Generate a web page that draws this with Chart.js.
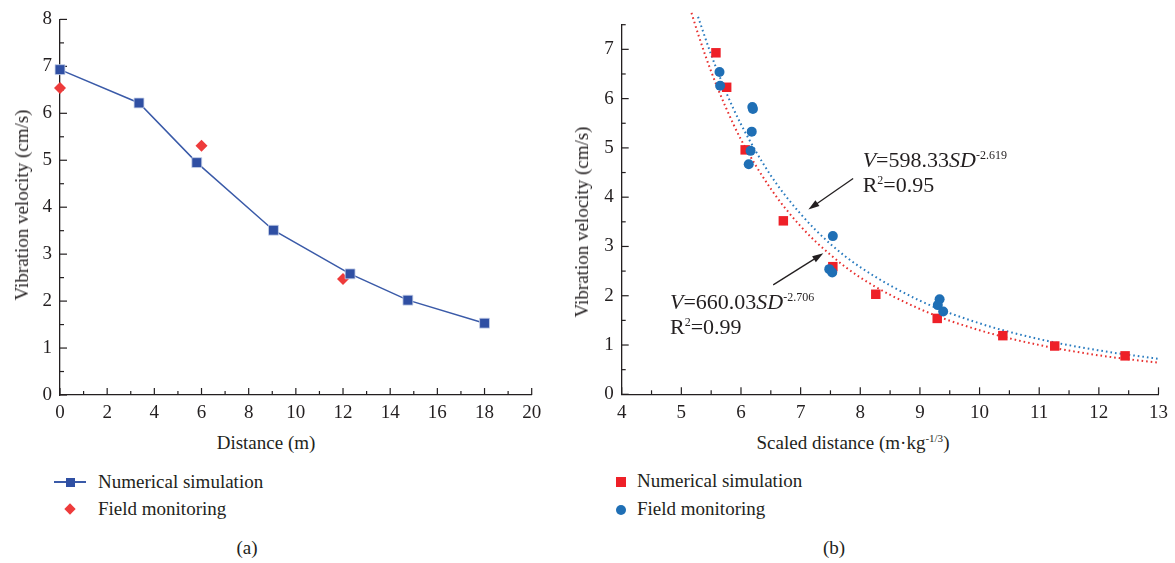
<!DOCTYPE html>
<html>
<head>
<meta charset="utf-8">
<script src="https://cdn.jsdelivr.net/npm/chart.js@4.4.0/dist/chart.umd.min.js"></script>
<style>
  body { margin: 0; background: #fff; width: 1175px; height: 563px; position: relative; overflow: hidden;
         font-family: "Liberation Serif", "DejaVu Serif", serif; color: #231f20; }
  canvas { position: absolute; top: 0; }
  #grafico-a { left: 0; }
  #grafico-b { left: 560px; }
  .rotulo { position: absolute; white-space: nowrap; font-size: 19px; transform: translate(-50%, -50%); }
  .vertical { transform: translate(-50%, -50%) rotate(-90deg); }
  .legenda { position: absolute; white-space: nowrap; font-size: 19px; line-height: 20px; }
  sup { font-size: 11px; vertical-align: 0; position: relative; top: -7px; }
</style>
</head>
<body>
<canvas id="grafico-a" width="560" height="420"></canvas>
<canvas id="grafico-b" width="615" height="420"></canvas>

<div class="rotulo vertical" style="left:22px; top:205px;">Vibration velocity (cm/s)</div>
<div class="rotulo" style="left:266px; top:443px;">Distance (m)</div>
<div class="rotulo vertical" style="left:582px; top:222px;">Vibration velocity (cm/s)</div>
<div class="rotulo" style="left:853px; top:443px;">Scaled distance (m·kg<sup>-1/3</sup>)</div>

<div class="legenda" style="left:98px; top:472px;">Numerical simulation</div>
<span style="position:absolute; left:54px; top:481px; width:32px; height:1.5px; background:#3a5aa8;"></span>
<span style="position:absolute; left:66px; top:478px; width:9px; height:9px; background:#2f4fa3;"></span>
<div class="legenda" style="left:98px; top:499px;">Field monitoring</div>
<span style="position:absolute; left:66px; top:505px; width:8px; height:8px; background:#ee3b3b; transform:rotate(45deg);"></span>

<div class="legenda" style="left:637px; top:471px;">Numerical simulation</div>
<span style="position:absolute; left:616px; top:477px; width:10px; height:10px; background:#ee2028;"></span>
<div class="legenda" style="left:637px; top:499px;">Field monitoring</div>
<span style="position:absolute; left:616px; top:505px; width:10px; height:10px; border-radius:50%; background:#1f6fb5;"></span>

<div class="rotulo" style="left:247px; top:548px;">(a)</div>
<div class="rotulo" style="left:834px; top:548px;">(b)</div>

<script>
// (a) distancia ao ponto de detonacao
const distSimulacao = [0, 3.35, 5.8, 9.05, 12.3, 14.75, 18.0];
const velSimulacao = [6.93, 6.22, 4.95, 3.51, 2.58, 2.02, 1.53];
const distCampo = [0, 6, 12];
const velCampo = [6.54, 5.31, 2.47];

// (b) distancia escalada
const sdSimulacao = [5.58, 5.76, 6.07, 6.71, 7.54, 8.26, 9.29, 10.39, 11.26, 12.44];
const vSimulacao = [6.93, 6.23, 4.96, 3.52, 2.59, 2.03, 1.54, 1.19, 0.98, 0.78];
const sdCampo = [5.64, 5.65, 6.19, 6.2, 6.18, 6.16, 6.13, 7.54, 7.48, 7.53, 9.33, 9.3, 9.39];
const vCampo = [6.54, 6.26, 5.83, 5.79, 5.33, 4.94, 4.67, 3.21, 2.54, 2.47, 1.93, 1.81, 1.68];

// curvas de ajuste
const sdAjusteSim = [5.17, 5.3, 5.5, 5.75, 6, 6.5, 7, 7.5, 8, 9, 10, 11, 12, 13];
const vAjusteSim = [7.74, 7.24, 6.55, 5.81, 5.17, 4.17, 3.41, 2.83, 2.37, 1.73, 1.30, 1.00, 0.79, 0.64];
const sdAjusteCampo = [5.28, 5.5, 5.75, 6, 6.5, 7, 7.5, 8, 9, 10, 11, 12, 13];
const vAjusteCampo = [7.66, 6.89, 6.13, 5.48, 4.44, 3.66, 3.05, 2.58, 1.90, 1.44, 1.12, 0.89, 0.72];

// texto das equacoes: [texto, estilo] (i = italico, s = expoente)
const equacaoCampo = [["V", "i"], ["=598.33", ""], ["SD", "i"], ["-2.619", "s"]];
const r2Campo = [["R", ""], ["2", "s"], ["=0.95", ""]];
const equacaoSim = [["V", "i"], ["=660.03", ""], ["SD", "i"], ["-2.706", "s"]];
const r2Sim = [["R", ""], ["2", "s"], ["=0.99", ""]];

const FONTE = "'Liberation Serif', 'DejaVu Serif', serif";
const COR_EIXO = "#231f20";

function pares(xs, ys) {
  return xs.map((x, i) => ({ x: x, y: ys[i] }));
}

const marcasInternas = {
  id: "marcasInternas",
  beforeDatasetsDraw(chart) {
    const ctx = chart.ctx;
    const area = chart.chartArea;
    ctx.save();
    ctx.strokeStyle = COR_EIXO;
    ctx.lineWidth = 1.2;
    ["x", "y"].forEach((id) => {
      const escala = chart.scales[id];
      const valores = escala.ticks.map((t) => t.value);
      const passo = valores[1] - valores[0];
      const lista = valores.map((v) => [v, 7]);
      for (let m = valores[0] + passo / 2; m <= escala.max + 1e-6; m += passo) lista.push([m, 4]);
      lista.forEach(([v, tam]) => {
        const p = escala.getPixelForValue(v);
        ctx.beginPath();
        if (id === "x") {
          ctx.moveTo(p, area.bottom);
          ctx.lineTo(p, area.bottom - tam);
        } else {
          ctx.moveTo(area.left, p);
          ctx.lineTo(area.left + tam, p);
        }
        ctx.stroke();
      });
    });
    ctx.restore();
  },
};

function escreverRico(ctx, partes, x, y) {
  let cx = x;
  partes.forEach(([texto, estilo]) => {
    const sup = estilo === "s";
    ctx.font = (estilo === "i" ? "italic " : "") + (sup ? "12px " : "22px ") + FONTE;
    ctx.fillText(texto, cx, sup ? y - 8 : y);
    cx += ctx.measureText(texto).width;
  });
}

function seta(ctx, x1, y1, x2, y2) {
  const ang = Math.atan2(y2 - y1, x2 - x1);
  ctx.beginPath();
  ctx.moveTo(x1, y1);
  ctx.lineTo(x2 - 8 * Math.cos(ang), y2 - 8 * Math.sin(ang));
  ctx.stroke();
  ctx.beginPath();
  ctx.moveTo(x2, y2);
  ctx.lineTo(x2 - 11 * Math.cos(ang) + 3.5 * Math.sin(ang), y2 - 11 * Math.sin(ang) - 3.5 * Math.cos(ang));
  ctx.lineTo(x2 - 11 * Math.cos(ang) - 3.5 * Math.sin(ang), y2 - 11 * Math.sin(ang) + 3.5 * Math.cos(ang));
  ctx.closePath();
  ctx.fill();
}

const anotacoes = {
  id: "anotacoes",
  afterDatasetsDraw(chart) {
    const ctx = chart.ctx;
    const sx = chart.scales.x, sy = chart.scales.y;
    const px = (v) => sx.getPixelForValue(v);
    const py = (v) => sy.getPixelForValue(v);
    ctx.save();
    ctx.fillStyle = COR_EIXO;
    ctx.strokeStyle = COR_EIXO;
    ctx.lineWidth = 1.3;
    ctx.textBaseline = "alphabetic";
    ctx.textAlign = "left";
    escreverRico(ctx, equacaoCampo, px(8.04), py(4.61));
    escreverRico(ctx, r2Campo, px(8.04), py(4.11));
    escreverRico(ctx, equacaoSim, px(4.81), py(1.73));
    escreverRico(ctx, r2Sim, px(4.81), py(1.22));
    seta(ctx, px(7.88), py(4.38), px(7.13), py(3.75));
    seta(ctx, px(6.54), py(2.22), px(7.38), py(2.86));
    ctx.restore();
  },
};

function eixos(minX, maxX, passoX, maxY, larguraY, alturaX) {
  const fonteTicks = { family: FONTE, size: 19 };
  return {
    x: {
      type: "linear", min: minX, max: maxX,
      grid: { display: false, drawTicks: false },
      border: { display: true, color: COR_EIXO, width: 1.3 },
      ticks: { stepSize: passoX, color: COR_EIXO, font: fonteTicks, padding: 7, maxRotation: 0 },
      afterFit: (s) => { s.height = alturaX; },
    },
    y: {
      type: "linear", min: 0, max: maxY,
      grid: { display: false, drawTicks: false },
      border: { display: true, color: COR_EIXO, width: 1.3 },
      ticks: { stepSize: 1, color: COR_EIXO, font: fonteTicks, padding: 8 },
      afterBuildTicks: (s) => { s.ticks = s.ticks.filter((t) => Number.isInteger(t.value)); },
      afterFit: (s) => { s.width = larguraY; },
    },
  };
}

const opcoesBase = {
  responsive: false,
  animation: false,
  events: [],
  plugins: { legend: { display: false }, tooltip: { enabled: false } },
};

new Chart(document.getElementById("grafico-a"), {
  type: "scatter",
  data: {
    datasets: [
      {
        data: pares(distSimulacao, velSimulacao),
        showLine: true,
        borderColor: "#3a5aa8",
        borderWidth: 1.5,
        pointStyle: "rect",
        pointRadius: 7,
        pointBackgroundColor: "#2f4fa3",
        pointBorderColor: "#c9d3ea",
        pointBorderWidth: 0.8,
        clip: false,
        order: 0,
      },
      {
        data: pares(distCampo, velCampo),
        pointStyle: "rectRot",
        pointRadius: 6,
        pointBackgroundColor: "#ee3b3b",
        pointBorderColor: "#ee3b3b",
        pointBorderWidth: 0,
        clip: false,
        order: 1,
      },
    ],
  },
  options: Object.assign({}, opcoesBase, {
    layout: { autoPadding: false, padding: { left: 0, top: 16, right: 28.3, bottom: 0 } },
    scales: eixos(0, 20, 2, 8, 60, 25),
  }),
  plugins: [marcasInternas],
});

new Chart(document.getElementById("grafico-b"), {
  type: "scatter",
  data: {
    datasets: [
      {
        data: pares(sdCampo, vCampo),
        pointStyle: "circle",
        pointRadius: 5,
        pointBackgroundColor: "#1f6fb5",
        pointBorderColor: "#1f6fb5",
        pointBorderWidth: 0,
        clip: false,
        order: 0,
      },
      {
        data: pares(sdSimulacao, vSimulacao),
        pointStyle: "rect",
        pointRadius: 6.7,
        pointBackgroundColor: "#ee2028",
        pointBorderColor: "#ee2028",
        pointBorderWidth: 0,
        clip: false,
        order: 1,
      },
      {
        data: pares(sdAjusteCampo, vAjusteCampo),
        showLine: true,
        pointRadius: 0,
        borderColor: "#2a7bbf",
        borderWidth: 2,
        borderDash: [1.6, 3],
        cubicInterpolationMode: "monotone",
        clip: false,
        order: 2,
      },
      {
        data: pares(sdAjusteSim, vAjusteSim),
        showLine: true,
        pointRadius: 0,
        borderColor: "#e8302f",
        borderWidth: 2,
        borderDash: [1.6, 3],
        cubicInterpolationMode: "monotone",
        clip: false,
        order: 3,
      },
    ],
  },
  options: Object.assign({}, opcoesBase, {
    layout: { autoPadding: false, padding: { left: 0, top: 24.7, right: 16, bottom: 0 } },
    scales: eixos(4, 13, 1, 7.5, 61.7, 25.7),
  }),
  plugins: [marcasInternas, anotacoes],
});
</script>
</body>
</html>
